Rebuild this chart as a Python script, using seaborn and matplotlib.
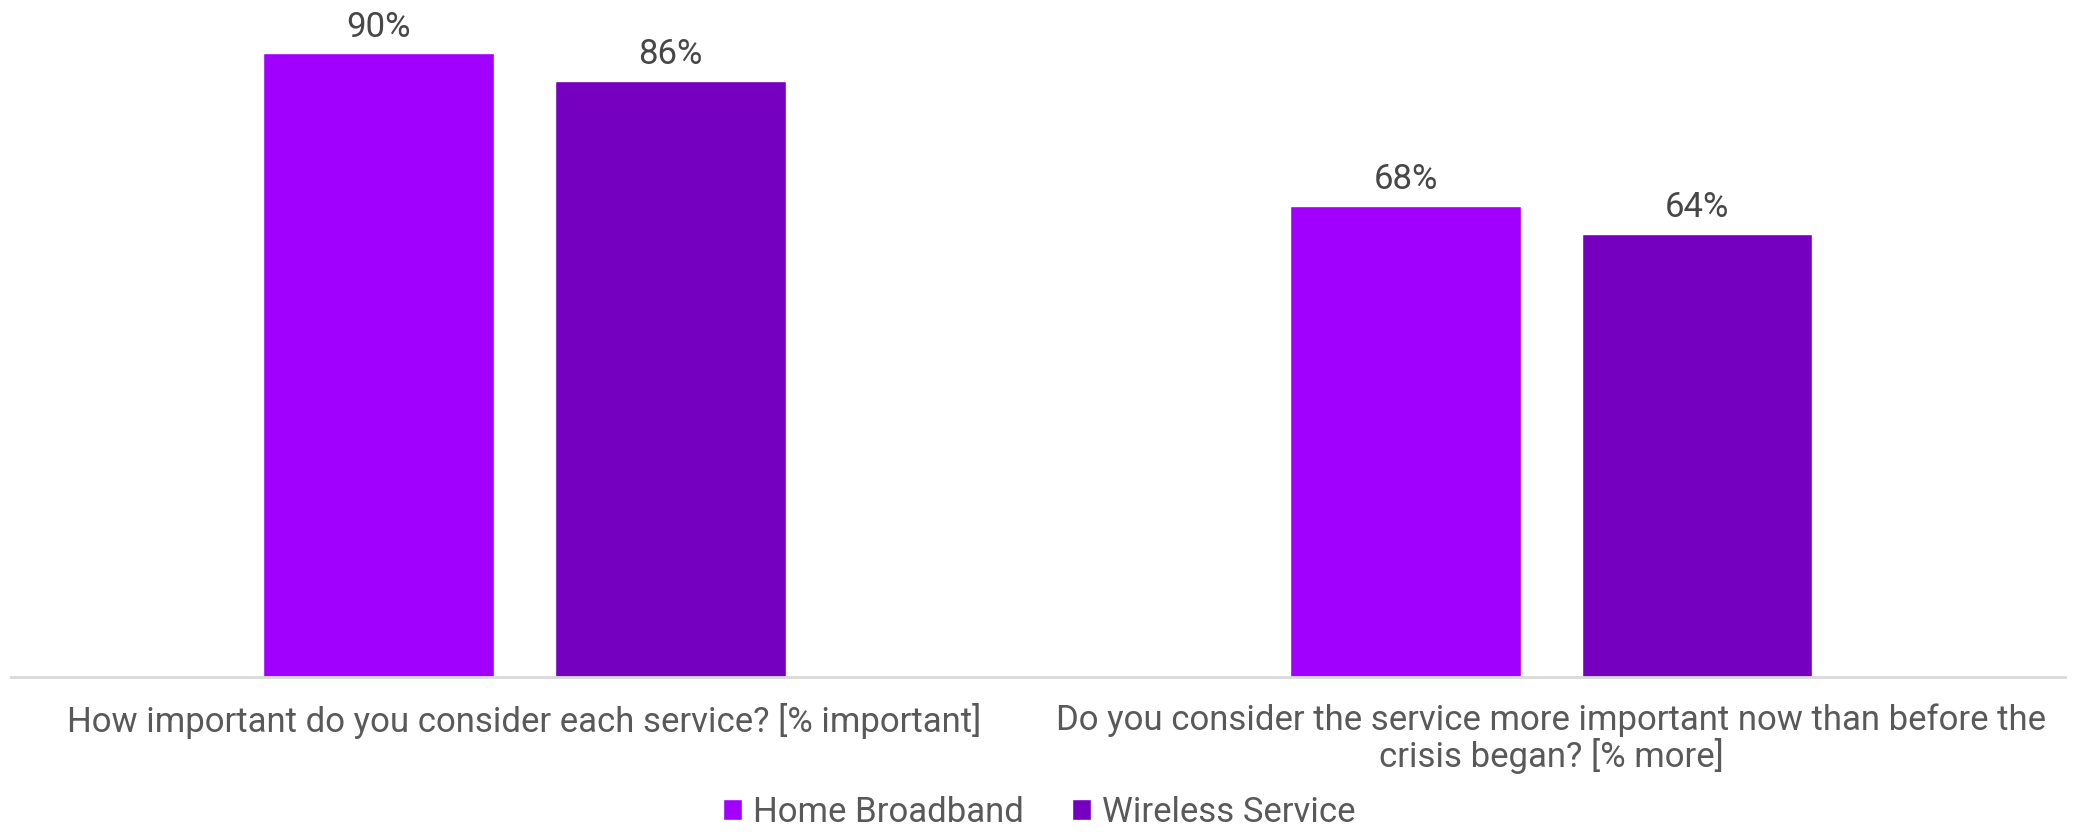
import matplotlib
matplotlib.use("Agg")
import matplotlib.pyplot as plt
import seaborn as sns
import pandas as pd

# Survey questions (x categories) and series
questions = [
    "How important do you consider each service? [% important]",
    "Do you consider the service more important now than before the\ncrisis began? [% more]",
]
services = ["Home Broadband", "Wireless Service"]
home_broadband = [90, 68]
wireless_service = [86, 64]
palette = ["#A100FF", "#7500C0"]

df = pd.DataFrame({
    "question": questions * 2,
    "service": [services[0]] * 2 + [services[1]] * 2,
    "value": home_broadband + wireless_service,
})

sns.set_theme(style="white")
plt.rcParams["font.family"] = ["Roboto", "DejaVu Sans"]

fig = plt.figure(figsize=(20.78, 8.32), dpi=100)
ax = fig.add_axes([0.0053, 0.1863, 0.9884, 0.8137])

sns.barplot(data=df, x="question", y="value", hue="service",
            palette=palette, width=0.568, gap=0.21, saturation=1,
            ax=ax, legend=True)

ax.set_ylim(0, 97.7)
ax.set_xlim(-0.5, 1.5)
ax.set_xlabel("")
ax.set_ylabel("")
ax.set_yticks([])
for side in ["top", "left", "right"]:
    ax.spines[side].set_visible(False)
ax.spines["bottom"].set_color("#D9D9D9")
ax.spines["bottom"].set_linewidth(2)
ax.tick_params(axis="x", length=0, pad=19, labelsize=25, labelcolor="#595959")
for lbl in ax.get_xticklabels():
    lbl.set_linespacing(1.05)

for container in ax.containers:
    ax.bar_label(container, labels=[f"{v:.0f}%" for v in container.datavalues],
                 padding=7, fontsize=25, color="#474747", clip_on=False)

handles, labels = ax.get_legend_handles_labels()
ax.get_legend().remove()
fig.legend(handles, labels, loc="center", bbox_to_anchor=(0.5, 0.024),
           ncol=2, frameon=False, prop={"size": 25},
           labelcolor="#595959",
           handlelength=0.55, handleheight=0.55, handletextpad=0.3,
           columnspacing=1.4)

fig.savefig("out.png", dpi=100, facecolor="white")
